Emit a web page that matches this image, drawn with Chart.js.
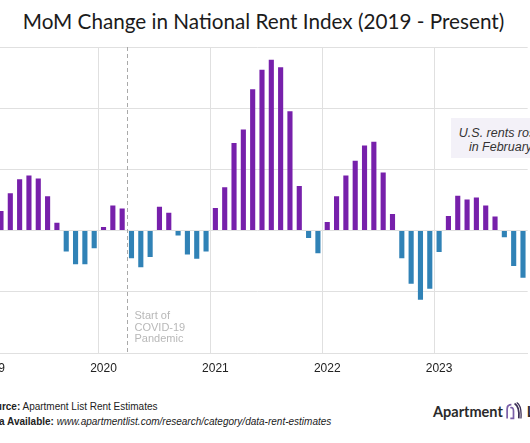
<!DOCTYPE html>
<html>
<head>
<meta charset="utf-8">
<script src="https://cdn.jsdelivr.net/npm/chart.js@4"></script>
<style>
  html, body { margin: 0; padding: 0; background: #fff; }
  #frame { position: relative; width: 530px; height: 443px; overflow: hidden; background: #fff; }
  #title { position: absolute; left: 0; top: 9px; width: 527px; text-align: center;
    font-family: Lato, sans-serif; font-size: 20.7px; color: #1b1b1b; white-space: nowrap; }
  #plot { position: absolute; left: -53px; top: 0; width: 584px; height: 380px; }
  #note { position: absolute; left: 451px; top: 118px; width: 99px; height: 40px; background: #f3f1f8;
    font-family: "Liberation Sans", Arial, sans-serif; font-style: italic; font-size: 12.5px; color: #333;
    text-align: center; line-height: 14px; padding-top: 8px; box-sizing: border-box; white-space: nowrap; }
  #source { position: absolute; left: -17px; top: 400px; font-family: "Liberation Sans", Arial, sans-serif;
    font-size: 10px; color: #222; line-height: 14.5px; white-space: nowrap; }
  #logo { position: absolute; left: 433px; top: 401px; font-family: Lato, sans-serif; font-weight: bold;
    font-size: 14.5px; color: #2a2a2a; white-space: nowrap; }
  #logo svg { vertical-align: -4px; margin: 0 5px 0 2px; }
</style>
</head>
<body>
<div id="frame">
  <div id="title">MoM Change in National Rent Index (2019 - Present)</div>
  <div id="plot"><canvas id="rentChart" width="584" height="380"></canvas></div>
  <div id="note">U.S. rents rose<br>in February</div>
  <div id="source">
    <b>Source:</b> Apartment List Rent Estimates<br>
    <b>Data Available:</b> <i>www.apartmentlist.com/research/category/data-rent-estimates</i>
  </div>
  <div id="logo">Apartment<svg width="17" height="20" viewBox="0 0 16 18">
      <path d="M2 16 L2 7 Q2 3 6 3" fill="none" stroke="#7a5fa8" stroke-width="1.6"/>
      <path d="M5 16 L8 16 L8 9 Q8 5 5 6" fill="none" stroke="#7a5fa8" stroke-width="1.6"/>
      <path d="M9 2 Q14 5 13 16" fill="none" stroke="#3a2d55" stroke-width="1.6"/>
      <path d="M11 1 Q16 4 15 16" fill="none" stroke="#3a2d55" stroke-width="1.2"/>
    </svg>List</div>
</div>

<script>
// ====================
// Data
// ====================

const years = ["2019", "2020", "2021", "2022", "2023"];
const monthNames = ["Jan", "Feb", "Mar", "Apr", "May", "Jun", "Jul", "Aug", "Sep", "Oct", "Nov", "Dec"];

// month-over-month change in national rent index (%)
const mom2019 = [0.10, 0.32, 0.61, 0.84, 0.90, 0.85, 0.56, 0.13, -0.34, -0.55, -0.55, -0.29];
const mom2020 = [0.06, 0.41, 0.36, -0.45, -0.60, -0.43, 0.39, 0.29, -0.08, -0.39, -0.46, -0.34];
const mom2021 = [0.37, 0.71, 1.43, 1.65, 2.31, 2.63, 2.79, 2.67, 1.95, 0.73, -0.12, -0.37];
const mom2022 = [0.14, 0.56, 0.90, 1.14, 1.39, 1.45, 0.95, 0.27, -0.45, -0.87, -1.13, -0.95];
const mom2023 = [-0.35, 0.24, 0.57, 0.51, 0.54, 0.41, 0.23, -0.11, -0.58, -0.77];

const yTicks = [-2, -1, 0, 1, 2, 3];

const covidMonth = "Apr 2020";
const covidLabel = ["Start of", "COVID-19", "Pandemic"];

const momValues = [].concat(mom2019, mom2020, mom2021, mom2022, mom2023);
const monthLabels = [];
years.forEach((y) => monthNames.forEach((m) => monthLabels.push(m + " " + y)));
monthLabels.length = momValues.length;

const purple = "#7720ab";
const blue = "#3082b6";
const gridColor = "#e0e0e0";

// ====================
// Covid marker plugin
// ====================

const covidMarker = {
  id: "covidMarker",
  beforeDatasetsDraw(chart) {
    const x = chart.scales.x;
    const area = chart.chartArea;
    const i = monthLabels.indexOf(covidMonth);
    const px = Math.round((x.getPixelForValue(i - 1) + x.getPixelForValue(i)) / 2) + 0.5;
    const ctx = chart.ctx;
    ctx.save();
    ctx.strokeStyle = "#a9a9a9";
    ctx.lineWidth = 1;
    ctx.setLineDash([4, 3]);
    ctx.beginPath();
    ctx.moveTo(px, area.top);
    ctx.lineTo(px, area.bottom);
    ctx.stroke();
    ctx.setLineDash([]);
    ctx.fillStyle = "#b8b8b8";
    ctx.font = "11px 'Liberation Sans', Arial, sans-serif";
    ctx.textBaseline = "middle";
    covidLabel.forEach((t, k) => ctx.fillText(t, px + 7, area.bottom - 37 + k * 11.5));
    ctx.restore();
  },
};

// ====================
// Bar Chart
// ====================

new Chart(document.getElementById("rentChart"), {
  type: "bar",
  data: {
    labels: monthLabels,
    datasets: [
      {
        data: momValues,
        backgroundColor: momValues.map((v) => (v >= 0 ? purple : blue)),
        categoryPercentage: 1,
        barPercentage: 0.55,
      },
    ],
  },
  options: {
    responsive: false,
    animation: false,
    layout: { padding: { top: 47, left: 0, right: 0, bottom: 0 } },
    plugins: {
      legend: { display: false },
      tooltip: { enabled: false },
    },
    scales: {
      x: {
        offset: true,
        grid: {
          offset: true,
          drawTicks: false,
          color: (ctx) => (ctx.index % 12 === 0 ? gridColor : "rgba(0,0,0,0)"),
        },
        border: { display: true, color: gridColor },
        ticks: {
          autoSkip: false,
          maxRotation: 0,
          padding: 8,
          color: "#222",
          font: { family: "'Liberation Sans', Arial, sans-serif", size: 12 },
          callback: (v, i) => (i % 12 === 0 ? years[i / 12] : ""),
        },
        afterFit: (s) => { s.height = 27; },
      },
      y: {
        min: yTicks[0],
        max: yTicks[yTicks.length - 1],
        afterBuildTicks: (s) => { s.ticks = yTicks.map((v) => ({ value: v })); },
        grid: { color: gridColor, drawTicks: false },
        border: { display: false },
        ticks: { display: false },
        afterFit: (s) => { s.width = 40; },
      },
    },
  },
  plugins: [covidMarker],
});
</script>
</body>
</html>
